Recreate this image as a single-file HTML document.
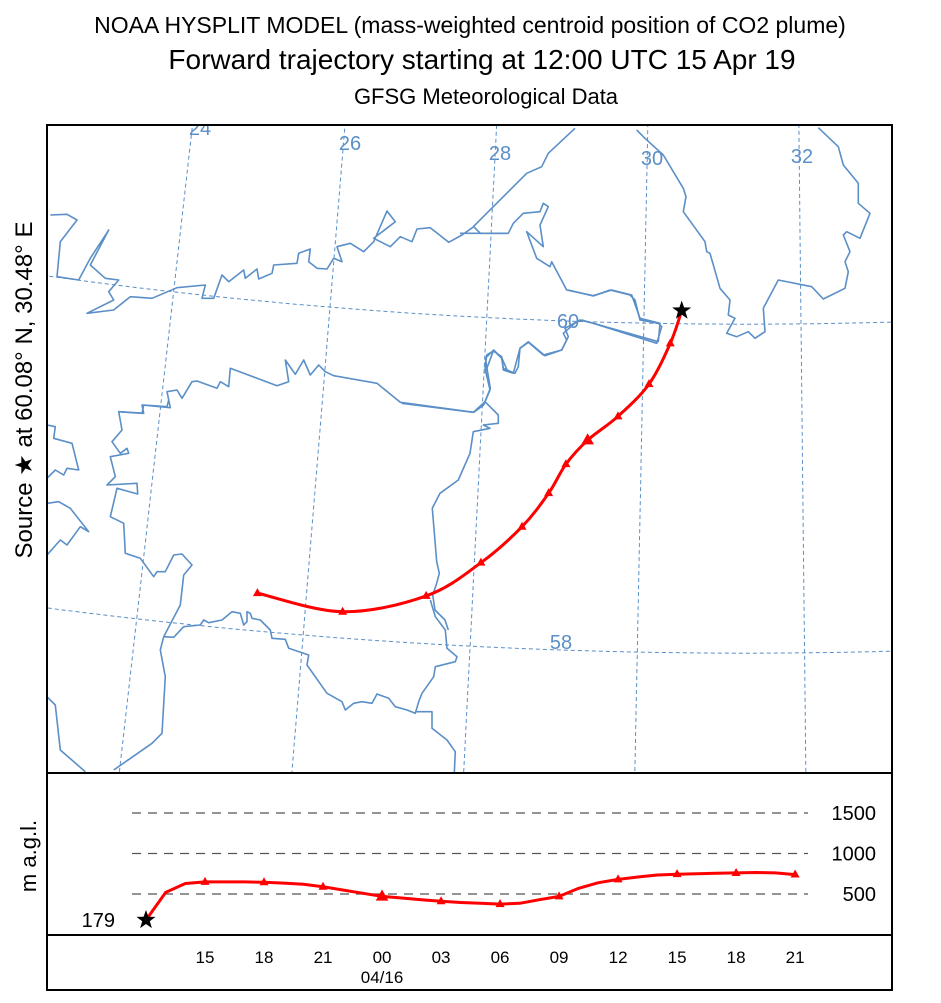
<!DOCTYPE html>
<html><head><meta charset="utf-8"><style>
body{margin:0;background:#fff;}
svg{display:block;font-family:"Liberation Sans",Arial,sans-serif;}
</style></head><body>
<svg id="chart" width="941" height="1003" viewBox="0 0 941 1003" xmlns="http://www.w3.org/2000/svg">
<text x="470" y="33" font-size="23" text-anchor="middle">NOAA HYSPLIT MODEL (mass-weighted centroid position of CO2 plume)</text>
<text x="482" y="69" font-size="28" text-anchor="middle">Forward trajectory starting at 12:00 UTC 15 Apr 19</text>
<text x="486" y="104" font-size="22" text-anchor="middle">GFSG Meteorological Data</text>
<text transform="translate(32,390) rotate(-90)" font-size="24" text-anchor="middle">Source ★  at  60.08° N, 30.48° E</text>
<text transform="translate(36,856) rotate(-90)" font-size="22" text-anchor="middle">m a.g.l.</text>
<defs><clipPath id="mapclip"><rect x="48" y="126" width="843" height="646"/></clipPath></defs>
<g id="map" clip-path="url(#mapclip)"></g>
<g id="height"></g>
<rect x="47" y="125" width="845" height="865" fill="none" stroke="#000" stroke-width="2"/>
<line x1="47" y1="773" x2="892" y2="773" stroke="#000" stroke-width="2"/>
<line x1="47" y1="935" x2="892" y2="935" stroke="#000" stroke-width="2"/>
</svg>
<script>
const NS='http://www.w3.org/2000/svg';
// trajectory (every 3h from 12 UTC 15 Apr)
const trajLon=[30.48,30.34,30.08,29.70,29.33,29.07,28.87,28.56,28.08,27.44,26.45,25.41];
const trajLat=[60.08,59.88,59.63,59.43,59.28,59.13,58.95,58.74,58.51,58.29,58.16,58.23];
// hourly heights (m AGL) from 12 UTC 15 Apr to 21 UTC 16 Apr
const heights=[179,520,630,650,650,650,645,635,620,590,550,510,470,450,430,410,395,385,375,385,430,470,570,640,680,710,735,745,750,755,760,765,760,740];
const timeTicks=['15','18','21','00','03','06','09','12','15','18','21'];
const heightTicks=[500,1000,1500];
const meridians=[24,26,28,30,32];
const parallels=[58,60];

function el(tag,attrs,parent){const e=document.createElementNS(NS,tag);for(const k in attrs)e.setAttribute(k,attrs[k]);parent.appendChild(e);return e;}
const PX=746,PY=-4768,LON0=31.3,K=0.01543,R0=5079,RS=164.5;
function proj(lon,lat){const r=R0+RS*(60.08-lat);const t=(lon-LON0)*K;return [PX+r*Math.sin(t),PY+r*Math.cos(t)];}
const map=document.getElementById('map');
const blue='#5b8fc7';
meridians.forEach(m=>{let d='';for(let la=56;la<=62.01;la+=0.2){const p=proj(m,la);d+=(d?'L':'M')+p[0].toFixed(1)+','+p[1].toFixed(1);}
 const e=el('path',{d:d,fill:'none',stroke:blue,'stroke-width':1,'stroke-dasharray':'4,3'},map);
 
 });
parallels.forEach(pa=>{let d='';for(let lo=20;lo<=36.01;lo+=0.2){const p=proj(lo,pa);d+=(d?'L':'M')+p[0].toFixed(1)+','+p[1].toFixed(1);}
 const e=el('path',{d:d,fill:'none',stroke:blue,'stroke-width':1,'stroke-dasharray':'4,3'},map);
 
 });
const coasts=[
[47,125,[10,270,60,268,90,285,40,350,30,455,95,465,130,400,185,315,130,420,175,460,215,465,185,500,200,525,120,565,200,555,250,515,315,520,390,488,475,480,465,520,500,520,525,450,545,470,590,435,595,460,630,432,635,462,675,445,680,420,750,415,755,385,790,372,785,410,810,430,840,432,860,400,885,410,870,365,910,355,950,380,980,350,1020,258,1045,290,980,340,1030,365,1060,335,1095,350,1110,312,1150,308,1205,352,1245,330,1280,305,1300,325,1380,325]],
[460,125,[0,325,145,325,160,295,190,265,240,260,250,235,265,245,240,300,250,365,200,320,230,400,270,425,275,410,320,495,400,512,455,495,515,510,540,580,600,595,595,650,365,585]],
[460,125,[40,305,200,145,245,125,265,85,345,10]],
[460,125,[530,15,555,40,610,90,670,190,678,215,670,260,735,350,740,380,750,385,780,490,810,525,805,570,825,580,800,625,830,635,865,620,885,640,915,620,910,550,955,465,1055,485,1090,522,1155,490,1165,440,1155,410,1170,380,1150,330,1160,320,1200,340,1230,265,1195,235,1195,175,1150,120,1135,65,1075,8]],
[47,125,[215,860,290,865,285,840,370,848,360,800,390,795,405,820,435,770,450,768,510,790,520,770,545,785,550,730,690,782,725,770,715,705,745,748,770,705,790,750,815,720,835,740,860,752,990,775,1060,832,1280,862,1310,840,1330,790,1315,700,1340,675,1365,700,1380,735]],
[460,125,[75,745,100,678,125,695,130,735,160,745,180,670,205,652,250,690,305,675,320,645,310,625,350,590,370,585]],
[240,290,[485,340,700,367,735,335,750,300,735,235,740,195,762,182,785,205,790,235,825,250,835,230,840,175,865,155,915,197,965,180,985,140,975,115,1020,90,1060,100,1250,160,1265,110,1255,100,1200,90,1185,30,1170,15,1110,0,1060,18,985,0]],
[240,290,[735,335,775,375,775,400,730,405,750,415,700,425,690,490,655,570,600,610,577,655,590,815,598,850,590,880,578,915,585,960,615,990,625,1020]],
[47,400,[365,0,360,20,290,15,285,40,215,35,225,90,195,125,220,160,240,145,245,160,190,170,205,230,180,255,270,250,272,282,210,265,190,350,230,370,235,460,280,475,320,530,330,515,355,515,380,465,405,462,435,495,410,525,400,615,350,710,380,712,410,680,460,675,470,660,485,668,525,660,555,635,580,640,590,675,600,665,600,635,610,640,615,655,640,660,670,690,675,715,715,718,725,745,785,765,780,795,840,880,885,905,895,930,920,910,945,905,975,910,990,882,1025,895,1045,920,1080,930,1105,940,1115,905,1125,880,1160,830,1165,800,1225,785,1230,770,1200,745,1195,690,1165,650,1150,600]],
[47,400,[1105,935,1155,935,1155,985,1200,1020,1225,1055,1222,1120]],
[47,400,[350,710,340,750,355,830,345,1000,315,1030,200,1110]],
[47,400,[0,75,25,80,20,115,75,130,95,210,60,205,50,225,25,210,0,235]],
[47,400,[0,310,35,305,70,325,125,395,100,380,60,435,40,420,0,465]],
[47,400,[0,890,25,915,40,1050,115,1115]]
];
coasts.forEach((c,i)=>{const pts=c[2];let d='';for(let j=0;j<pts.length;j+=2){d+=(j?'L':'M')+(c[0]+pts[j]/3).toFixed(1)+','+(c[1]+pts[j+1]/3).toFixed(1);}
 const e=el('path',{d:d,fill:'none',stroke:blue,'stroke-width':1.6,'stroke-linejoin':'round'},map);
 
 });
const mlab=[[24,200,135],[26,350,150],[28,500,160],[30,652,165],[32,802,163]];
mlab.forEach(m=>{const t=el('text',{x:m[1],y:m[2],'font-size':20,fill:blue,'text-anchor':'middle'},map);t.textContent=m[0];
 
 });
[[60,568,328],[58,561,649]].forEach(m=>{const t=el('text',{x:m[1],y:m[2],'font-size':20,fill:blue,'text-anchor':'middle'},map);t.textContent=m[0];
 
 });
function smooth(P){let d='M'+P[0][0].toFixed(1)+','+P[0][1].toFixed(1);for(let i=0;i<P.length-1;i++){const p0=P[Math.max(0,i-1)],p1=P[i],p2=P[i+1],p3=P[Math.min(P.length-1,i+2)];
 const c1=[p1[0]+(p2[0]-p0[0])/6,p1[1]+(p2[1]-p0[1])/6],c2=[p2[0]-(p3[0]-p1[0])/6,p2[1]-(p3[1]-p1[1])/6];
 d+='C'+c1[0].toFixed(1)+','+c1[1].toFixed(1)+' '+c2[0].toFixed(1)+','+c2[1].toFixed(1)+' '+p2[0].toFixed(1)+','+p2[1].toFixed(1);}return d;}
function tri(x,y,s){return (x)+','+(y-s)+' '+(x-s*0.9)+','+(y+s*0.6)+' '+(x+s*0.9)+','+(y+s*0.6);}
function star(x,y,r){let p=[];for(let i=0;i<10;i++){const a=-Math.PI/2+i*Math.PI/5;const rr=i%2?r*0.4:r;p.push((x+rr*Math.cos(a)).toFixed(1)+','+(y+rr*Math.sin(a)).toFixed(1));}return p.join(' ');}
const TP=trajLon.map((l,i)=>proj(l,trajLat[i]));
const tl=el('path',{d:smooth(TP),fill:'none',stroke:'#f00','stroke-width':3},map);


TP.forEach((p,i)=>{if(i===0)return;const s=(i===4)?7:5;const m=el('polygon',{points:tri(p[0],p[1],s),fill:'#f00'},map);
 
 });
const st=el('polygon',{points:star(TP[0][0],TP[0][1],10),fill:'#000'},map);


const H=document.getElementById('height');
const xT=h=>146+h*19.67;
const yH=v=>934.5-v*0.081;
heightTicks.forEach(v=>{const l=el('line',{x1:132,x2:808,y1:yH(v),y2:yH(v),stroke:'#555','stroke-width':1.2,'stroke-dasharray':'9,7'},H);
 
 
 const t=el('text',{x:876,y:yH(v)+7,'font-size':20,'text-anchor':'end'},H);t.textContent=v;
 
 });
const HP=heights.map((v,i)=>[xT(i),yH(v)]);
const hl=el('path',{d:'M'+HP.map(p=>p[0].toFixed(1)+','+p[1].toFixed(1)).join('L'),fill:'none',stroke:'#f00','stroke-width':3,'stroke-linejoin':'round'},H);


for(let i=3;i<heights.length;i+=3){const s=(i===12)?7:5;const m=el('polygon',{points:tri(xT(i),yH(heights[i]),s),fill:'#f00'},H);
 
 }
const hs=el('polygon',{points:star(xT(0),yH(heights[0]),10),fill:'#000'},H);


const sl=el('text',{x:115,y:927,'font-size':20,'text-anchor':'end'},H);sl.textContent=heights[0];


timeTicks.forEach((t,i)=>{const x=xT(3+i*3);const tx=el('text',{x:x,y:963,'font-size':17,'text-anchor':'middle'},H);tx.textContent=t;
 
 });
const dl=el('text',{x:xT(12),y:983,'font-size':17,'text-anchor':'middle'},H);dl.textContent='04/16';


</script>
</body></html>
